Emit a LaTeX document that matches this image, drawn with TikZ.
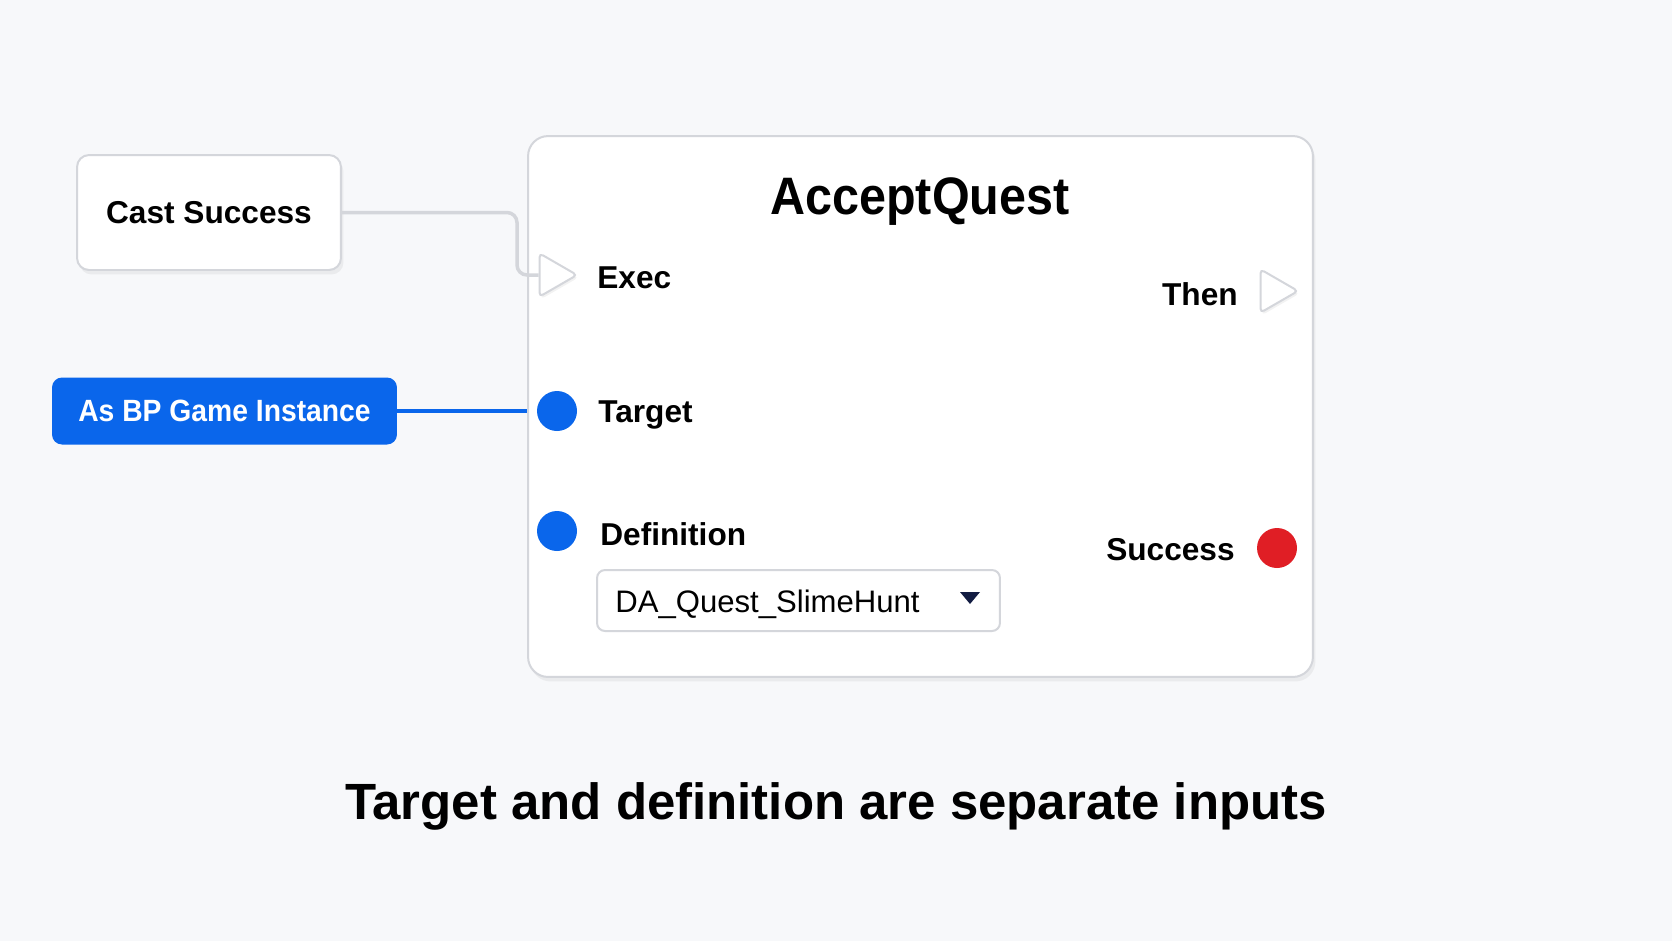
\documentclass[tikz,border=0pt]{standalone}
\usepackage{fontspec}
\setmainfont{Liberation Sans}
\newfontfamily\narrowsans[FakeStretch=0.92]{Liberation Sans}
\usetikzlibrary{calc, arrows.meta, positioning, shapes.geometric, shadows}
\definecolor{ink}{RGB}{18,28,66}
\definecolor{bpblue}{RGB}{10,102,235}
\definecolor{bpred}{RGB}{224,30,37}
\definecolor{paper}{RGB}{247,248,250}
\definecolor{edge}{RGB}{212,214,219}
\pgfdeclarelayer{background}
\pgfsetlayers{background,main}

\begin{document}
\begin{tikzpicture}[x=0.02cm, y=-0.02cm, font=\bfseries\color{ink}]
				\tikzstyle{card} = [draw=edge, line width=0.04cm, fill=white, rounded corners=0.24cm, drop shadow={shadow xshift=0.05cm, shadow yshift=-0.09cm, opacity=0.10}]
				\tikzstyle{execpin} = [draw=edge, line width=0.04cm, fill=white, regular polygon, regular polygon sides=3, shape border rotate=-90, minimum size=1.0cm, inner sep=0pt, rounded corners=0.08cm, drop shadow={shadow xshift=0.03cm, shadow yshift=-0.05cm, opacity=0.10}]
				\tikzstyle{datapin} = [circle, inner sep=0pt, minimum size=0.8cm]
				\tikzstyle{pinlabel} = [inner sep=0pt, font=\fontsize{18}{20}\selectfont\bfseries]
				\tikzstyle{wire} = [draw=edge, line width=0.07cm, rounded corners=0.2cm]
				
				\begin{pgfonlayer}{background}
				\fill[paper] (0, 0) rectangle (1672, 941);
				\end{pgfonlayer}
				\useasboundingbox (0, 0) rectangle (1672, 941);
				
				\node[card, rounded corners=0.4cm, minimum width=15.7cm, minimum height=10.82cm] at (920.5, 406.5) (main) {};
				\node[font=\fontsize{30}{32}\selectfont\narrowsans\bfseries, anchor=base] at (920, 214) (title) {AcceptQuest};
				
				\node[card, minimum width=5.28cm, minimum height=2.3cm, inner sep=0pt, font=\fontsize{18}{20}\selectfont\bfseries] at (209, 212.5) (cast) {Cast Success};
				\node[fill=bpblue, rounded corners=0.2cm, minimum width=6.9cm, minimum height=1.34cm, inner sep=0pt, font=\fontsize{17.5}{20}\selectfont\narrowsans\bfseries\color{white}] at (224.5, 411) (asbp) {As BP Game Instance};
				
				\node[execpin] 	at (552, 275) 		(exec) 	{};
				\node[pinlabel, anchor=base west] 	at (597, 288) 	(execlbl) 	{Exec};
				\node[execpin] 	at (1273, 291) 		(then) 	{};
				\node[pinlabel, anchor=base east] 	at (1238, 305) 	(thenlbl) 	{Then};
				
				\node[datapin, fill=bpblue] 	at (557, 411) 	(target) 	{};
				\node[pinlabel, anchor=base west] 	at (598, 422) 	(targetlbl) 	{Target};
				\node[datapin, fill=bpblue] 	at (557, 531) 	(defn) 	{};
				\node[pinlabel, anchor=base west] 	at (600, 545) 	(defnlbl) 	{Definition};
				\node[datapin, fill=bpred] 	at (1277, 548) 	(success) 	{};
				\node[pinlabel, anchor=base east] 	at (1235, 560) 	(successlbl) 	{Success};
				
				\node[draw=edge, line width=0.04cm, fill=white, rounded corners=0.16cm, minimum width=8.06cm, minimum height=1.22cm] at (798.5, 600.5) (dropdown) {};
				\node[font=\fontsize{17.7}{19}\selectfont\mdseries, anchor=base west, inner sep=0pt] at (615, 612) (asset) {DA\_Quest\_SlimeHunt};
				\fill[ink] (960, 592) -- (980, 592) -- (970, 604) -- cycle;
				
				\node[font=\fontsize{29}{34}\selectfont\bfseries, anchor=base] at (836, 819) (caption) {Target and definition are separate inputs};
				
				\coordinate (bend) at (517, 0);
				\draw[wire] (cast.east) -| (bend |- exec.west) -- (exec.west);
				\begin{pgfonlayer}{background}
				\draw[bpblue, line width=0.08cm] (asbp.east) -- (target.west);
				\end{pgfonlayer}
				\end{tikzpicture}
\end{document}
